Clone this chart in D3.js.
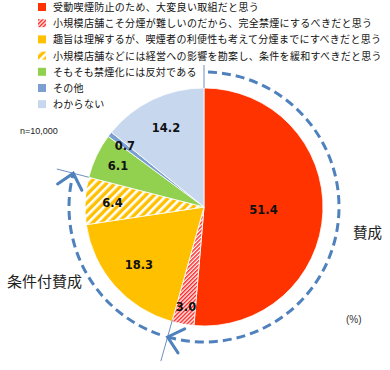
<!DOCTYPE html>
<html>
<head>
<meta charset="utf-8">
<script src="https://cdn.jsdelivr.net/npm/d3@7"></script>
<style>
  body { margin: 0; background: #fff; }
  svg { display: block; }
</style>
</head>
<body>
<div id="chart"></div>
<script>
// answers, in the order they go round the pie (clockwise from 12 o'clock)
var categories = [
    "受動喫煙防止のため、大変良い取組だと思う",
    "小規模店舗こそ分煙が難しいのだから、完全禁煙にするべきだと思う",
    "趣旨は理解するが、喫煙者の利便性も考えて分煙までにすべきだと思う",
    "小規模店舗などには経営への影響を勘案し、条件を緩和すべきだと思う",
    "そもそも禁煙化には反対である",
    "その他",
    "わからない"
];
var values = [51.4, 3.0, 18.3, 6.4, 6.1, 0.7, 14.2];
var valueLabels = ["51.4", "3.0", "18.3", "6.4", "6.1", "0.7", "14.2"];

// fill per slice (pattern ids for the hatched ones)
var fills = ["#ff3300", "url(#hatchRed)", "#ffc000", "url(#hatchGold)", "#92d050", "#7c9fd2", "#c6d7ee"];
// how far out each value label sits, as share of radius
var labelPos = [0.5, 0.85, 0.73, 0.77, 0.8, 0.84, 0.74];

var width = 390, height = 370;
var cx = 204, cy = 207, radius = 119, ringR = 135;
var blue = "#4f81bd";

var svg = d3.select("#chart").append("svg")
    .attr("width", width)
    .attr("height", height);

// hatch patterns
var defs = svg.append("defs");
var pr = defs.append("pattern")
    .attr("id", "hatchRed")
    .attr("patternUnits", "userSpaceOnUse")
    .attr("width", 2.8).attr("height", 2.8)
    .attr("patternTransform", "rotate(45)");
pr.append("rect").attr("width", 2.8).attr("height", 2.8).attr("fill", "#fff");
pr.append("rect").attr("width", 1.5).attr("height", 2.8).attr("fill", "#ff2a2a");

var pg = defs.append("pattern")
    .attr("id", "hatchGold")
    .attr("patternUnits", "userSpaceOnUse")
    .attr("width", 6).attr("height", 6)
    .attr("patternTransform", "rotate(45)");
pg.append("rect").attr("width", 6).attr("height", 6).attr("fill", "#ffc000");
pg.append("rect").attr("width", 2.6).attr("height", 6).attr("fill", "#fff");

// legend
var legend = svg.append("g").attr("transform", "translate(38,3)");
var rows = legend.selectAll("g")
    .data(categories)
    .enter()
    .append("g")
    .attr("transform", function (d, i) { return "translate(0," + (i * 16.2) + ")"; });
rows.append("rect")
    .attr("width", 8).attr("height", 8)
    .attr("fill", function (d, i) { return fills[i]; });
rows.append("text")
    .attr("x", 15)
    .attr("y", 8)
    .style("font-family", "'Noto Sans CJK JP', sans-serif")
    .style("font-size", "10px")
    .style("letter-spacing", "0.3px")
    .style("fill", "#111")
    .text(function (d) { return d; });

// pie
var pie = d3.pie().sort(null).value(function (d) { return d; });
var arcs = pie(values);
var arc = d3.arc().innerRadius(0).outerRadius(radius);

var g = svg.append("g").attr("transform", "translate(" + cx + "," + cy + ")");

g.selectAll("path.slice")
    .data(arcs)
    .enter()
    .append("path")
    .attr("class", "slice")
    .attr("d", arc)
    .attr("fill", function (d, i) { return fills[i]; })
    .attr("stroke", "#fff")
    .attr("stroke-width", 0.8);

g.selectAll("text.val")
    .data(arcs)
    .enter()
    .append("text")
    .attr("class", "val")
    .attr("transform", function (d, i) {
        var r = radius * labelPos[i];
        var c = d3.arc().innerRadius(r).outerRadius(r).centroid(d);
        return "translate(" + c[0] + "," + c[1] + ")";
    })
    .attr("text-anchor", "middle")
    .attr("dy", "0.38em")
    .style("font-family", "'DejaVu Sans', Verdana, sans-serif")
    .style("font-weight", "bold")
    .style("font-size", "11.5px")
    .style("fill", "#111")
    .text(function (d, i) { return valueLabels[i]; });

// dashed rings: 賛成 (first two slices) and 条件付賛成 (next two)
function polar(r, a) {
    return [r * Math.sin(a), -r * Math.cos(a)];
}
var a0 = arcs[0].startAngle;
var a1 = arcs[1].endAngle;
var a2 = arcs[3].endAngle;

function ringPath(s, e) {
    var p = d3.path();
    var st = polar(ringR, s);
    p.moveTo(st[0], st[1]);
    p.arc(0, 0, ringR, s - Math.PI / 2, e - Math.PI / 2);
    return p.toString();
}

g.append("path")
    .attr("d", ringPath(a0 + 0.03, a1))
    .attr("fill", "none")
    .attr("stroke", blue)
    .attr("stroke-width", 3)
    .attr("stroke-dasharray", "9,5");

g.append("path")
    .attr("d", ringPath(a1 + 0.06, a2))
    .attr("fill", "none")
    .attr("stroke", blue)
    .attr("stroke-width", 3)
    .attr("stroke-dasharray", "9,5");

// separator ticks across the ring
[[a0, 119, 142], [a1, 117, 160], [a2, 119, 152]].forEach(function (t) {
    var p1 = polar(t[1], t[0]), p2 = polar(t[2], t[0]);
    g.append("line")
        .attr("x1", p1[0]).attr("y1", p1[1])
        .attr("x2", p2[0]).attr("y2", p2[1])
        .attr("stroke", "#6d8fc4")
        .attr("stroke-width", 1);
});

// arrowheads at the ends of the rings
function arrowHead(a) {
    var tip = polar(ringR, a);
    var dir = [Math.cos(a), Math.sin(a)]; // clockwise tangent
    var len = 19, spread = 0.72;
    var pts = [-spread, spread].map(function (s) {
        var c = Math.cos(Math.PI + s), sn = Math.sin(Math.PI + s);
        return [tip[0] + len * (dir[0] * c - dir[1] * sn), tip[1] + len * (dir[0] * sn + dir[1] * c)];
    });
    g.append("path")
        .attr("d", "M" + pts[0] + "L" + tip + "L" + pts[1])
        .attr("fill", "none")
        .attr("stroke", blue)
        .attr("stroke-width", 3)
        .attr("stroke-linecap", "round");
}
arrowHead(a1);
arrowHead(a2);

// notes
svg.append("text")
    .attr("x", 20).attr("y", 134)
    .style("font-family", "Arial, 'Liberation Sans', sans-serif")
    .style("font-size", "9px")
    .style("fill", "#222")
    .text("n=10,000");

svg.append("text")
    .attr("x", 353).attr("y", 238)
    .style("font-family", "'Noto Sans CJK JP', sans-serif")
    .style("font-size", "14.5px")
    .style("fill", "#222")
    .text("賛成");

svg.append("text")
    .attr("x", 7).attr("y", 287)
    .style("font-family", "'Noto Sans CJK JP', sans-serif")
    .style("font-size", "15px")
    .style("fill", "#222")
    .text("条件付賛成");

svg.append("text")
    .attr("x", 346).attr("y", 323)
    .style("font-family", "Arial, 'Liberation Sans', sans-serif")
    .style("font-size", "10px")
    .style("fill", "#333")
    .text("(%)");
</script>
</body>
</html>
